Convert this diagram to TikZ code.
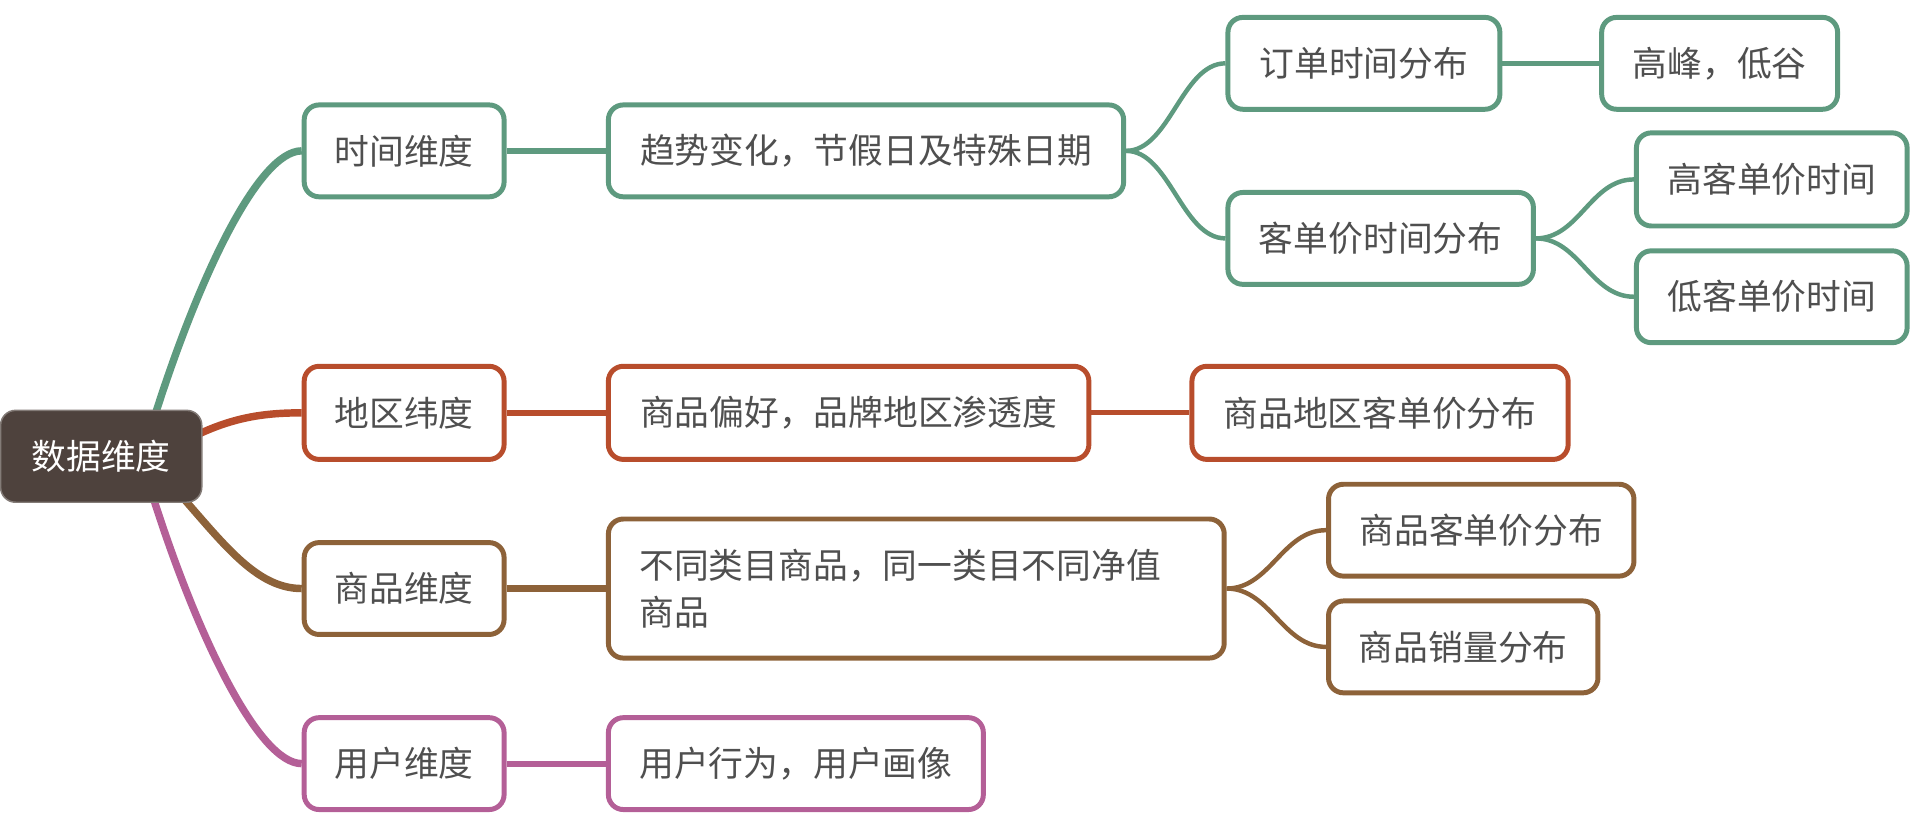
\documentclass[tikz,border=0pt]{standalone}
\usepackage{fontspec}
\setmainfont{Noto Sans CJK SC}
\usetikzlibrary{backgrounds}
\definecolor{cgreen}{HTML}{5E9A7F}
\definecolor{cred}{HTML}{B84D2C}
\definecolor{cbrown}{HTML}{8D6239}
\definecolor{cpink}{HTML}{B45F97}
\definecolor{croot}{HTML}{4E423D}
\definecolor{txt}{HTML}{4F4F4F}
\tikzset{
  mm/.style={draw=#1, line width=2pt, rounded corners=6pt, fill=white, inner sep=0pt,
    minimum height=37pt, text=txt, font=\fontsize{14pt}{19pt}\selectfont},
  rootbox/.style={draw=croot!70!white, line width=0.6pt, rounded corners=6pt, fill=croot, inner sep=0pt,
    minimum width=81pt, minimum height=37pt, text=white, font=\fontsize{14pt}{19pt}\selectfont},
  lkroot/.style={draw=#1, line width=3pt},
  lkmain/.style={draw=#1, line width=2.5pt},
  lk/.style={draw=#1, line width=1.8pt},
}
\begin{document}
\begin{tikzpicture}[x=0.5pt,y=-0.5pt]
\useasboundingbox (0,0) rectangle (1548,655.6);
% root
\node[rootbox] (root) at (81.5,367.5) {数据维度};
% level 1
\node[mm=cgreen, minimum width=80.5pt] (time) at (325.5,121.5) {时间维度};
\node[mm=cred, minimum width=80.5pt, minimum height=37.5pt] (region) at (325.5,332.5) {地区纬度};
\node[mm=cbrown, minimum width=80.5pt] (goods) at (325.5,474) {商品维度};
\node[mm=cpink, minimum width=80.5pt] (user) at (325.5,615) {用户维度};
% level 2
\node[mm=cgreen, minimum width=207.5pt] (trend) at (697.5,121.5) {趋势变化，节假日及特殊日期};
\node[mm=cred, minimum width=193.5pt, minimum height=37.5pt] (pref) at (683.5,332.5) {商品偏好，品牌地区渗透度};
\node[mm=cbrown, minimum width=248pt, minimum height=56pt, text width=223pt, align=left] (cat) at (738,474) {不同类目商品，同一类目不同净值\\商品};
\node[mm=cpink, minimum width=151pt] (behav) at (641,615) {用户行为，用户画像};
% level 3
\node[mm=cgreen, minimum width=109.5pt] (order) at (1098.5,51) {订单时间分布};
\node[mm=cgreen, minimum width=123pt] (aovtime) at (1112,192) {客单价时间分布};
\node[mm=cred, minimum width=151.5pt, minimum height=37.5pt] (regaov) at (1111.5,332.5) {商品地区客单价分布};
\node[mm=cbrown, minimum width=123pt] (goodsaov) at (1193,427) {商品客单价分布};
\node[mm=cbrown, minimum width=108.5pt] (sales) at (1178.5,521) {商品销量分布};
% level 4
\node[mm=cgreen, minimum width=95pt] (peak) at (1385,51) {高峰，低谷};
\node[mm=cgreen, minimum width=109pt, minimum height=37.5pt] (high) at (1427,144.5) {高客单价时间};
\node[mm=cgreen, minimum width=109pt] (low) at (1427,239) {低客单价时间};
\begin{pgfonlayer}{background}
  % root links
  \draw[lkroot=cgreen] ([xshift=21.75pt,yshift=-2pt]root.north) .. controls +(35,-110) and +(-35,0) .. (time.west);
  \draw[lkroot=cred] ([yshift=8.75pt,xshift=-2pt]root.east) .. controls +(30,-14) and +(-30,0) .. (region.west);
  \draw[lkroot=cbrown] ([xshift=33pt,yshift=2pt]root.south) .. controls +(35,40) and +(-35,0) .. (goods.west);
  \draw[lkroot=cpink] ([xshift=21pt,yshift=2pt]root.south) .. controls +(35,110) and +(-35,0) .. (user.west);
  % level 1 -> 2
  \draw[lkmain=cgreen] (time.east) -- (trend.west);
  \draw[lkmain=cred] (region.east) -- (pref.west);
  \draw[lkmain=cbrown] (goods.east) -- (cat.west);
  \draw[lkmain=cpink] (user.east) -- (behav.west);
  % level 2 -> 3
  \draw[lk=cgreen] (trend.east) .. controls +(35,0) and +(-35,0) .. (order.west);
  \draw[lk=cgreen] (trend.east) .. controls +(35,0) and +(-35,0) .. (aovtime.west);
  \draw[lk=cred, line width=2pt] (pref.east) -- (regaov.west);
  \draw[lk=cbrown] (cat.east) .. controls +(35,0) and +(-35,0) .. (goodsaov.west);
  \draw[lk=cbrown] (cat.east) .. controls +(35,0) and +(-35,0) .. (sales.west);
  % level 3 -> 4
  \draw[lk=cgreen, line width=2pt] (order.east) -- (peak.west);
  \draw[lk=cgreen] (aovtime.east) .. controls +(35,0) and +(-35,0) .. (high.west);
  \draw[lk=cgreen] (aovtime.east) .. controls +(35,0) and +(-35,0) .. (low.west);
\end{pgfonlayer}
\end{tikzpicture}
\end{document}
